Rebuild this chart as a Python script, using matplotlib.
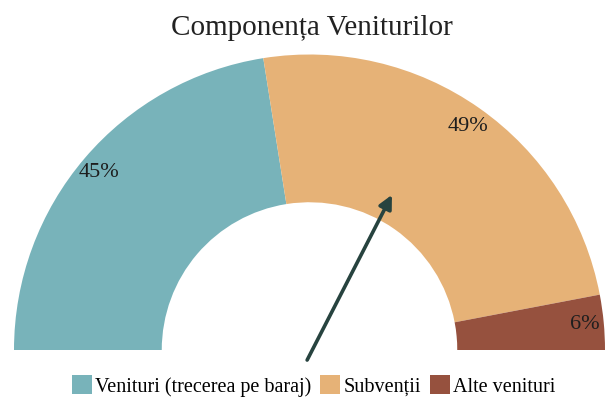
import numpy as np
import matplotlib
matplotlib.use('Agg')
import matplotlib.pyplot as plt
from matplotlib.patches import Patch

plt.rcParams['font.family'] = ['Liberation Serif', 'DejaVu Serif']

# data
categories = ['Venituri (trecerea pe baraj)', 'Subvenții', 'Alte venituri']
shares = [45, 49, 6]
colors = ['#78b3ba', '#e6b277', '#96513e']
title = 'Componența Veniturilor'
# needle, from tail to tip (data units, radius = 1)
needle_tail = (-0.008, -0.034)
needle_tip = (0.279, 0.525)

fig = plt.figure(figsize=(6.09, 4.04), dpi=100)
ax = fig.add_axes([0, 0, 1, 1])

# the lower half is a blank wedge so the donut becomes a half gauge
wedges, _ = ax.pie(shares + [sum(shares)], colors=colors + ['none'],
                   startangle=180, counterclock=False, radius=1.0,
                   wedgeprops=dict(width=0.5, linewidth=0))

total = float(sum(shares)) * 2
angle = 180.0
for val in shares:
    span = 360.0 * val / total
    mid = np.deg2rad(angle - span / 2)
    ax.text(0.935 * np.cos(mid), 0.925 * np.sin(mid), '%d%%' % val,
            ha='center', va='center', fontsize=16, color='#1e1e1e')
    angle -= span

ax.annotate('', xy=needle_tip, xytext=needle_tail,
            arrowprops=dict(arrowstyle='-|>', color='#27433f', lw=2.6,
                            mutation_scale=20, shrinkA=0, shrinkB=0))

# pixel layout: gauge centre at (309.5, 350) from top-left, radius 295.5 px
scale = 295.5
ax.set_xlim(-309.5 / scale, (609 - 309.5) / scale)
ax.set_ylim(-54 / scale, 350 / scale)
ax.set_aspect('auto')
ax.axis('off')

fig.text(0.512, 0.93, title, ha='center', va='center', fontsize=21, color='#222222')

handles = [Patch(facecolor=c, edgecolor='none') for c in colors]
fig.legend(handles, categories, loc='center', bbox_to_anchor=(0.515, 0.045),
           ncol=3, frameon=False, fontsize=14.5, handlelength=1.0, handleheight=1.1,
           handletextpad=0.15, columnspacing=0.45)

plt.savefig('out.png', dpi=100)
